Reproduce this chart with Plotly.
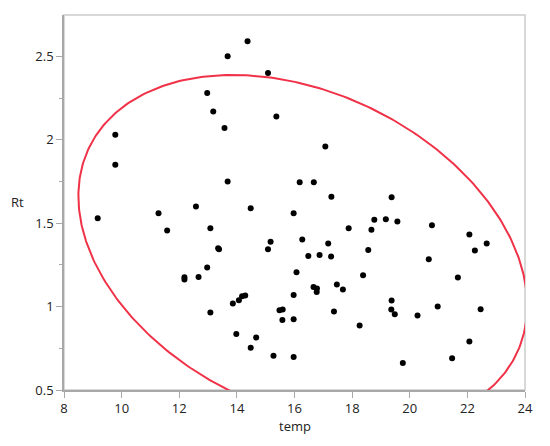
import numpy as np
import plotly.graph_objects as go

temp = [14.37, 13.68, 15.08, 12.97, 13.18, 13.57, 15.37, 9.78, 9.78, 13.68,
        9.17, 11.28, 12.58, 14.48, 11.58, 13.08, 17.07, 16.18, 16.67, 17.28,
        19.37, 15.97, 18.77, 19.17, 19.57, 20.77, 17.88, 18.67, 22.07, 22.67,
        22.26, 15.17, 15.08, 16.27, 17.17, 16.48, 16.87, 17.27, 18.56, 20.66,
        16.07, 18.38, 21.67, 16.66, 16.78, 16.77, 17.47, 17.68, 15.97, 19.37,
        19.36, 19.48, 20.97, 20.27, 22.46, 15.48, 15.59, 15.58, 15.97, 17.37,
        18.26, 22.07, 15.27, 15.97, 19.76, 21.47, 13.38, 13.35, 12.18, 12.18,
        12.67, 12.97, 13.08, 13.86, 14.07, 14.18, 14.29, 13.98, 14.67, 14.48]
Rt = [2.59, 2.50, 2.40, 2.28, 2.17, 2.07, 2.14, 2.03, 1.85, 1.75,
      1.53, 1.56, 1.60, 1.59, 1.456, 1.47, 1.96, 1.746, 1.746, 1.658,
      1.656, 1.56, 1.52, 1.524, 1.51, 1.488, 1.47, 1.46, 1.432, 1.378,
      1.336, 1.388, 1.344, 1.402, 1.378, 1.304, 1.31, 1.30, 1.34, 1.284,
      1.206, 1.188, 1.174, 1.118, 1.108, 1.088, 1.132, 1.102, 1.07, 1.036,
      0.982, 0.954, 1.0, 0.946, 0.984, 0.978, 0.982, 0.92, 0.924, 0.97,
      0.886, 0.79, 0.706, 0.698, 0.662, 0.69, 1.344, 1.35, 1.176, 1.162,
      1.178, 1.234, 0.964, 1.018, 1.038, 1.062, 1.066, 0.836, 0.814, 0.754]

x_ticks = [8, 10, 12, 14, 16, 18, 20, 22, 24]
y_ticks = [0.5, 1, 1.5, 2, 2.5]
ellipse_prob = 0.95

# density ellipse from bivariate normal fit
x = np.array(temp)
y = np.array(Rt)
mean = np.array([x.mean(), y.mean()])
cov = np.cov(np.vstack([x, y]))
c = np.sqrt(-2 * np.log(1 - ellipse_prob))
L = np.linalg.cholesky(cov)
t = np.linspace(0, 2 * np.pi, 400)
circ = np.vstack([np.cos(t), np.sin(t)])
ell = mean[:, None] + c * (L @ circ)

fig = go.Figure()
fig.add_trace(go.Scatter(x=ell[0], y=ell[1], mode="lines",
                         line=dict(color="rgb(240,50,72)", width=2),
                         hoverinfo="skip", showlegend=False))
fig.add_trace(go.Scatter(x=temp, y=Rt, mode="markers",
                         marker=dict(color="black", size=6),
                         showlegend=False))

axis_font = dict(family="Open Sans", size=13, color="#222222")
fig.update_layout(
    width=542, height=438,
    margin=dict(l=56, r=25, t=7, b=56),
    paper_bgcolor="white", plot_bgcolor="white",
    font=axis_font,
    xaxis=dict(range=[8, 24], tickvals=x_ticks, showgrid=False, zeroline=False,
               showline=True, linecolor="#a8a8a8", linewidth=1.5, mirror=False,
               ticks="outside", ticklen=6, tickcolor="#a8a8a8", tickfont=axis_font),
    yaxis=dict(range=[0.5, 2.748], tickvals=y_ticks, showgrid=False, zeroline=False,
               showline=True, linecolor="#a8a8a8", linewidth=1.5,
               ticks="outside", ticklen=6, tickcolor="#a8a8a8", tickfont=axis_font,
               minor=dict(dtick=0.25, ticks="outside", ticklen=3, tickcolor="#a8a8a8")),
    shapes=[dict(type="rect", xref="paper", yref="paper", x0=0, y0=0, x1=1, y1=1,
                 line=dict(color="#cccccc", width=1.5), layer="below")],
    annotations=[
        dict(text="Rt", xref="paper", yref="paper", x=-0.1015, y=0.501,
             xanchor="center", yanchor="middle", showarrow=False, font=axis_font),
        dict(text="temp", xref="paper", yref="paper", x=0.5, y=-0.097, xanchor="center",
             yanchor="middle", showarrow=False, font=axis_font),
    ],
)
fig.write_html("out.html")
